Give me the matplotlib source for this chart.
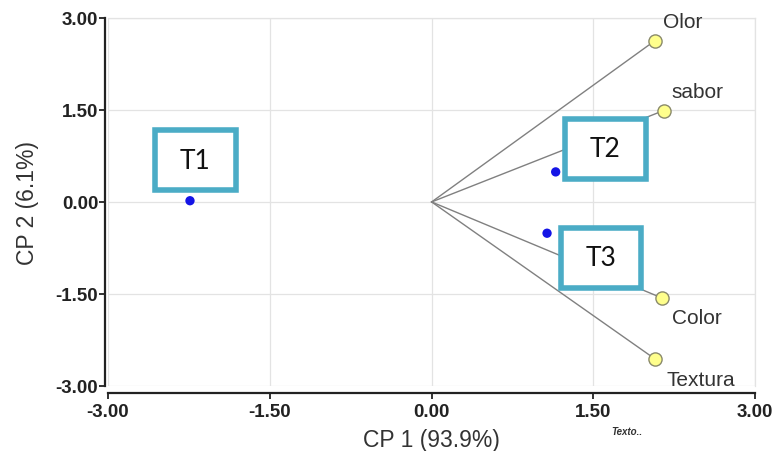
import matplotlib
matplotlib.use("Agg")
import matplotlib.pyplot as plt
from matplotlib.patches import Rectangle

# PCA biplot: treatment scores and attribute loadings
treatments = ["T1", "T2", "T3"]
score_x = [-2.24, 1.15, 1.07]
score_y = [0.02, 0.49, -0.51]

attributes = ["Olor", "sabor", "Color", "Textura"]
load_x = [2.07, 2.15, 2.14, 2.07]
load_y = [2.63, 1.49, -1.57, -2.56]

ticks = [-3.0, -1.5, 0.0, 1.5, 3.0]

# label placement (layout only)
box_offsets = [(0.05, 0.66), (0.46, 0.38), (0.50, -0.40)]
box_w, box_h = 0.75, 0.98
attr_offsets = [(6, 14), (6, 14), (7, -14), (8, -14.5)]

plt.rcParams["font.family"] = ["Liberation Sans", "DejaVu Sans"]

fig = plt.figure(figsize=(7.77, 4.52), dpi=100)
ax = fig.add_axes([0.139, 0.144, 0.833, 0.814])

ax.set_xlim(-3, 3)
ax.set_ylim(-3, 3)
ax.set_xticks(ticks)
ax.set_yticks(ticks)
ax.set_xticklabels(["%.2f" % t for t in ticks])
ax.set_yticklabels(["%.2f" % t for t in ticks])
ax.grid(True, color="#e3e3e3", lw=0.9)
ax.set_axisbelow(True)

for s in ["top", "right"]:
    ax.spines[s].set_color("#e3e3e3")
    ax.spines[s].set_linewidth(0.9)
for s in ["left", "bottom"]:
    ax.spines[s].set_linewidth(1.6)
    ax.spines[s].set_color("#222222")
ax.spines["bottom"].set_position(("outward", 5))
ax.spines["left"].set_position(("outward", 2))
ax.tick_params(length=4, width=1.3, color="#222222", labelsize=13.5, pad=1)
ax.tick_params(axis="x", pad=3)
for lab in ax.get_xticklabels() + ax.get_yticklabels():
    lab.set_fontweight("bold")
    lab.set_color("#222222")

# loading vectors
for x, y in zip(load_x, load_y):
    ax.plot([0, x], [0, y], color="#808080", lw=1.0, zorder=2)
ax.scatter(load_x, load_y, s=90, color="#ffff8c", edgecolor="#8a8a6a",
           linewidth=1.0, zorder=4)
for name, x, y, (dx, dy) in zip(attributes, load_x, load_y, attr_offsets):
    ax.annotate(name, (x, y), xytext=(dx, dy), textcoords="offset points",
                ha="left", va="center", fontsize=15, color="#333333")

# treatment scores
ax.scatter(score_x, score_y, s=45, color="#1414e6", edgecolor="none", zorder=4)
for name, x, y, (ox, oy) in zip(treatments, score_x, score_y, box_offsets):
    cx, cy = x + ox, y + oy
    ax.add_patch(Rectangle((cx - box_w / 2, cy - box_h / 2), box_w, box_h,
                           facecolor="white", edgecolor="#4bacc6", lw=4,
                           zorder=5))
    ax.text(cx, cy, name, ha="center", va="center", fontsize=19,
            family=["Lato", "DejaVu Sans"], color="#111111", zorder=6)

ax.set_xlabel("CP 1 (93.9%)", fontsize=16.5, color="#333333", labelpad=6)
ax.set_ylabel("CP 2 (6.1%)", fontsize=16.5, color="#333333", labelpad=12)

fig.text(0.787, 0.045, "Texto..", fontsize=7, style="italic",
         fontweight="bold", color="#333333", ha="left", va="center")

fig.savefig("out.png", dpi=100)
